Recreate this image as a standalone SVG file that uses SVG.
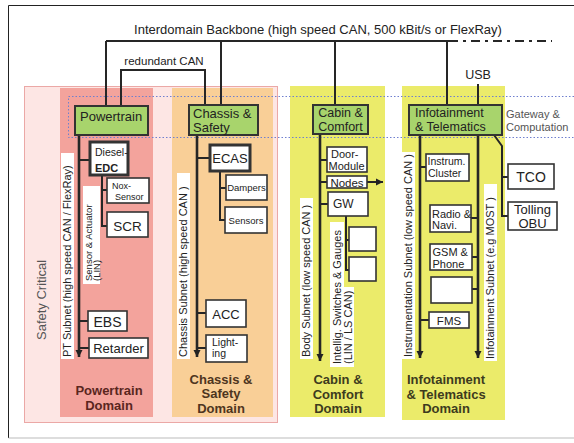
<svg xmlns="http://www.w3.org/2000/svg" width="574" height="443" viewBox="0 0 574 443">
<defs>
<marker id="arr" markerUnits="userSpaceOnUse" markerWidth="8" markerHeight="8" refX="7" refY="4" orient="auto">
<path d="M0,0.5 L7,4 L0,7.5 z" fill="#222"/>
</marker>
</defs>
<style>
.t{font-family:"Liberation Sans",Arial,sans-serif;fill:#222}
.b{font-weight:bold}
.m{text-anchor:middle}
.gwb{fill:#a8d46c;stroke:#333;stroke-width:2}
.box{fill:#fff;stroke:#333;stroke-width:1.6}
.thick{stroke-width:3}
.ln{stroke:#262626;stroke-width:2;fill:none}
.sub{stroke-width:2.6}
.lbg{fill:#fff}
.dom{font-size:13px;font-weight:bold}
</style>
<rect width="574" height="443" fill="#fff"/>
<path d="M8.5,438 V5.5 H574" fill="none" stroke="#222" stroke-width="1"/>
<path d="M8.5,438 H574" fill="none" stroke="#bbb" stroke-width="1"/>

<g id="safety-critical">
<rect x="24.5" y="86.5" width="253" height="336" fill="#fde6e4" stroke="#eba8a6" stroke-width="1"/>
<text class="t" font-size="13" transform="translate(46,340) rotate(-90)" style="fill:#555">Safety Critical</text>
</g>

<g id="powertrain-domain">
<rect x="60" y="88" width="93" height="329" fill="#f3a39c"/>
<text class="t dom m" x="109" y="395" style="fill:#5a261e">Powertrain</text>
<text class="t dom m" x="109" y="410" style="fill:#5a261e">Domain</text>
</g>
<g id="chassis-domain">
<rect x="172" y="88" width="101" height="329" fill="#f9cf97"/>
<text class="t dom m" x="221" y="384" style="fill:#4e3520">Chassis &amp;</text>
<text class="t dom m" x="221" y="398" style="fill:#4e3520">Safety</text>
<text class="t dom m" x="221" y="413" style="fill:#4e3520">Domain</text>
</g>
<g id="cabin-domain">
<rect x="290" y="86" width="95" height="331" fill="#ebeb6a"/>
<text class="t dom m" x="338" y="384" style="fill:#3d3b1e">Cabin &amp;</text>
<text class="t dom m" x="338" y="399" style="fill:#3d3b1e">Comfort</text>
<text class="t dom m" x="338" y="413" style="fill:#3d3b1e">Domain</text>
</g>
<g id="infotainment-domain">
<rect x="402" y="86" width="103" height="334" fill="#ebeb6a"/>
<text class="t dom m" x="446" y="384" style="fill:#3d3b1e">Infotainment</text>
<text class="t dom m" x="446" y="399" style="fill:#3d3b1e">&amp; Telematics</text>
<text class="t dom m" x="446" y="413" style="fill:#3d3b1e">Domain</text>
</g>

<g id="gateway-band">
<path d="M574,96.5 H68.5 V137.5 H574" fill="none" stroke="#6f7fcf" stroke-width="1" stroke-dasharray="1.5 2"/>
<text class="t" font-size="11" x="506" y="118" style="fill:#555">Gateway &amp;</text>
<text class="t" font-size="11" x="506" y="131" style="fill:#555">Computation</text>
</g>

<g id="subnet-labels">
<rect class="lbg" x="61" y="153" width="13" height="206"/>
<text class="t" font-size="11" transform="translate(71,357) rotate(-90)">PT Subnet (high speed CAN / FlexRay)</text>
<rect class="lbg" x="83" y="186" width="17" height="98"/>
<text class="t" font-size="9.5" transform="translate(91.5,281) rotate(-90)">Sensor &amp; Actuator</text>
<text class="t" font-size="9.5" transform="translate(99.5,281) rotate(-90)">(LIN)</text>
<rect class="lbg" x="177" y="173" width="13" height="186"/>
<text class="t" font-size="11" transform="translate(187,357) rotate(-90)">Chassis Subnet (high speed CAN )</text>
<rect class="lbg" x="300" y="198" width="13" height="161"/>
<text class="t" font-size="11" transform="translate(310,357) rotate(-90)">Body Subnet (low speed CAN )</text>
<rect class="lbg" x="330" y="222" width="14" height="145"/>
<rect class="lbg" x="343" y="287" width="11" height="80"/>
<text class="t" font-size="11" transform="translate(341,364) rotate(-90)">Intellig. Switches &amp; Gauges</text>
<text class="t" font-size="11" transform="translate(352,364) rotate(-90)">(LIN / LS CAN)</text>
<rect class="lbg" x="402" y="152" width="13" height="207"/>
<text class="t" font-size="11" transform="translate(412,357) rotate(-90)">Instrumentation Subnet (low speed CAN )</text>
<rect class="lbg" x="484" y="184" width="13" height="177"/>
<text class="t" font-size="11" transform="translate(494,359) rotate(-90)">Infotainment Subnet (e.g MOST )</text>
</g>

<g id="connectors">
<path class="ln" d="M106,41 H449"/>
<path class="ln" d="M449,41 H552" stroke-dasharray="9 5 3 5"/>
<path class="ln" d="M106,41 V106 M221,41 V106 M335,41 V106 M447,41 V106"/>
<path class="ln" d="M121,106 V70 H205 V106"/>
<path class="ln" d="M478,84 V106"/>
<path class="ln sub" d="M79,135 V357" marker-end="url(#arr)"/>
<path class="ln" d="M79,160 H90 M79,321 H88 M79,348 H89"/>
<path class="ln" d="M102,175 V226 H107 M102,190 H107"/>
<path class="ln sub" d="M197,135 V357" marker-end="url(#arr)"/>
<path class="ln" d="M197,158 H210 M197,313 H206 M197,348 H206"/>
<path class="ln" d="M220,171 V220 H225 M220,188 H226"/>
<path class="ln sub" d="M320,135 V361" marker-end="url(#arr)"/>
<path class="ln" d="M320,160 H327 M320,204 H328"/>
<path class="ln" d="M320,182 H327"/>
<path class="ln" d="M367,182 H383" marker-end="url(#arr)"/>
<path class="ln" d="M346,216 V270 H349 M346,240 H349"/>
<path class="ln sub" d="M420,135 V358" marker-end="url(#arr)"/>
<path class="ln" d="M420,167 H426 M420,320 H429"/>
<path class="ln sub" d="M478,135 V358" marker-end="url(#arr)"/>
<path class="ln" d="M471,218 H478 M472,257 H478 M472,289 H478"/>
<path class="ln" d="M494,135 L502,146 V216 H508 M502,177 H508"/>
</g>

<g class="t" font-size="12" id="top-labels">
<text class="m" x="318" y="34" font-size="13">Interdomain Backbone (high speed CAN, 500 kBit/s or FlexRay)</text>
<text class="m" x="164" y="65" font-size="11.5">redundant CAN</text>
<text class="m" x="478" y="79" font-size="12.5">USB</text>
</g>

<g id="gw-powertrain"><rect class="gwb" x="75" y="106" width="73" height="29"/><text class="t" font-size="13" x="80" y="121">Powertrain</text></g>
<g id="gw-chassis"><rect class="gwb" x="189" y="105" width="69" height="30"/><text class="t" font-size="13" x="193" y="118">Chassis &amp;</text><text class="t" font-size="13" x="193" y="132">Safety</text></g>
<g id="gw-cabin"><rect class="gwb" x="313" y="105" width="55" height="29"/><text class="t m" font-size="12.5" x="340.5" y="117">Cabin &amp;</text><text class="t m" font-size="12.5" x="340.5" y="130.5">Comfort</text></g>
<g id="gw-infotainment"><rect class="gwb" x="409" y="105" width="93" height="30"/><text class="t" font-size="12.5" x="415" y="117">Infotainment</text><text class="t" font-size="12.5" x="415" y="130.5">&amp; Telematics</text></g>

<g id="diesel-edc"><rect class="box thick" x="90" y="142" width="38" height="33"/><text class="t" font-size="10.5" x="95" y="156">Diesel-</text><text class="t b" font-size="11" x="95" y="172">EDC</text></g>
<g id="nox-sensor"><rect class="box" x="107" y="178" width="42" height="25"/><text class="t" font-size="9" x="112" y="189">Nox-</text><text class="t" font-size="9" x="115" y="200">Sensor</text></g>
<g id="scr"><rect class="box" x="107" y="212" width="41" height="25"/><text class="t m" font-size="13.5" x="127.5" y="231">SCR</text></g>
<g id="ebs"><rect class="box" x="88" y="311" width="39" height="20"/><text class="t m" font-size="14" x="107.5" y="326.5">EBS</text></g>
<g id="retarder"><rect class="box" x="89" y="338" width="59" height="20"/><text class="t m" font-size="13" x="118.5" y="353">Retarder</text></g>

<g id="ecas"><rect class="box thick" x="210" y="145" width="40" height="26"/><text class="t m" font-size="13" x="230" y="163">ECAS</text></g>
<g id="dampers"><rect class="box" x="226" y="175" width="41" height="25"/><text class="t m" font-size="9.5" x="246.5" y="191">Dampers</text></g>
<g id="sensors"><rect class="box" x="225" y="207" width="42" height="26"/><text class="t m" font-size="9.5" x="246" y="223.5">Sensors</text></g>
<g id="acc"><rect class="box" x="206" y="300" width="40" height="27"/><text class="t m" font-size="13" x="226" y="318.5">ACC</text></g>
<g id="lighting"><rect class="box" x="206" y="335" width="41" height="27"/><text class="t" font-size="10.5" x="212" y="346">Light-</text><text class="t" font-size="10.5" x="212" y="357">ing</text></g>

<g id="door-module"><rect class="box" x="327" y="147" width="40" height="25"/><text class="t" font-size="11" x="331" y="158">Door-</text><text class="t" font-size="11" x="328.5" y="170">Module</text></g>
<g id="nodes"><rect class="box" x="327" y="176" width="40" height="12"/><text class="t m" font-size="11.5" x="347" y="186.5">Nodes</text></g>
<g id="gw"><rect class="box" x="328" y="192" width="40" height="24"/><text class="t" font-size="12" x="333" y="208">GW</text></g>
<g id="switch-1"><rect class="box" x="349" y="227" width="27" height="24"/></g>
<g id="switch-2"><rect class="box" x="349" y="257" width="27" height="24"/></g>

<g id="instrum-cluster"><rect class="box" x="426" y="154" width="43" height="27"/><text class="t" font-size="10.5" x="427.5" y="165">Instrum.</text><text class="t" font-size="10.5" x="428" y="177">Cluster</text></g>
<g id="radio-navi"><rect class="box" x="430" y="205" width="41" height="27"/><text class="t" font-size="11" x="432" y="218">Radio &amp;</text><text class="t" font-size="11" x="432" y="229">Navi.</text></g>
<g id="gsm-phone"><rect class="box" x="430" y="244" width="42" height="26"/><text class="t" font-size="11" x="432.5" y="256">GSM &amp;</text><text class="t" font-size="11" x="432.5" y="267.5">Phone</text></g>
<g id="info-empty"><rect class="box" x="431" y="277" width="41" height="26"/></g>
<g id="fms"><rect class="box" x="429" y="312" width="40" height="16"/><text class="t m" font-size="11.5" x="449" y="324.5">FMS</text></g>
<g id="tco"><rect class="box" x="508" y="164" width="46" height="25"/><text class="t m" font-size="14" x="531" y="182">TCO</text></g>
<g id="tolling-obu"><rect class="box" x="508" y="202" width="49" height="28"/><text class="t m" font-size="13" x="532.5" y="214">Tolling</text><text class="t m" font-size="13" x="532.5" y="228">OBU</text></g>
</svg>
